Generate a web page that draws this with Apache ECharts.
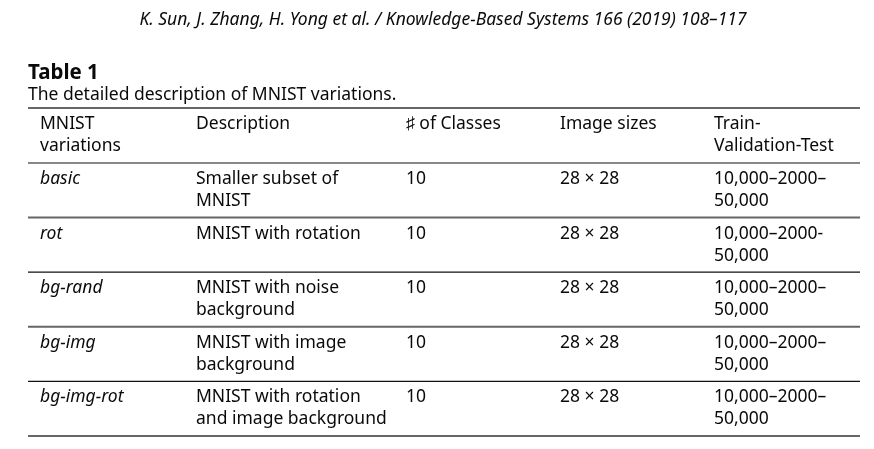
<!DOCTYPE html>
<html>
<head>
<meta charset="utf-8">
<script src="https://cdn.jsdelivr.net/npm/echarts@6/dist/echarts.min.js"></script>
<style>html,body{margin:0;padding:0;background:#fff;}#c{width:874px;height:449px;}</style>
</head>
<body>
<div id="c"></div>
<script>
// ---- data ----
const runningHead = 'K. Sun, J. Zhang, H. Yong et al. / Knowledge-Based Systems 166 (2019) 108–117';
const tableLabel = 'Table 1';
const caption = 'The detailed description of MNIST variations.';
const columns = ['MNIST\nvariations', 'Description', '♯ of Classes', 'Image sizes', 'Train-\nValidation-Test'];
const variations = ['basic', 'rot', 'bg-rand', 'bg-img', 'bg-img-rot'];
const descriptions = ['Smaller subset of\nMNIST', 'MNIST with rotation', 'MNIST with noise\nbackground', 'MNIST with image\nbackground', 'MNIST with rotation\nand image background'];
const numClasses = [10, 10, 10, 10, 10];
const imageSizes = ['28 × 28', '28 × 28', '28 × 28', '28 × 28', '28 × 28'];
const splits = ['10,000–2000–\n50,000', '10,000–2000-\n50,000', '10,000–2000–\n50,000', '10,000–2000–\n50,000', '10,000–2000–\n50,000'];

// ---- layout ----
const FONT = '"Noto Sans", sans-serif';
const colX = [40, 196, 406, 560, 714];
const tableLeft = 28, tableRight = 860;
const topRule = 108, headRule = 163, rowH = 54.6;
const lineH = 22, fs = 17.5, textColor = '#0a0a0a';

const chart = echarts.init(document.getElementById('c'), null, {renderer: 'canvas'});
const g = [];
function txt(x, y, s, opt) {
  g.push({type: 'text', x: x, y: y, silent: true, style: Object.assign({
    text: s, fill: textColor, font: fs + 'px ' + FONT, lineHeight: lineH,
    textAlign: 'left', textVerticalAlign: 'top'
  }, opt || {})});
}
function rule(y, dark) {
  g.push({type: 'line', silent: true, shape: {x1: tableLeft, y1: y, x2: tableRight, y2: y},
    style: {stroke: dark ? '#111' : '#666', lineWidth: dark ? 1.2 : 2}});
}
txt(443, 9, runningHead, {textAlign: 'center', font: 'italic 17.5px ' + FONT, lineHeight: 22});
txt(28, 60, tableLabel, {font: 'bold 20.5px ' + FONT, lineHeight: 26});
txt(28, 84, caption);
rule(topRule, false);
columns.forEach((c, i) => txt(colX[i], topRule + 5, c));
rule(headRule, true);
const rows = variations.map((v, i) => [v, descriptions[i], String(numClasses[i]), imageSizes[i], splits[i]]);
rows.forEach((r, ri) => {
  const top = headRule + ri * rowH;
  r.forEach((cell, ci) => txt(colX[ci], top + 5, cell, ci === 0 ? {font: 'italic ' + fs + 'px ' + FONT} : {}));
  rule(top + rowH, ri % 2 === 1);
});
chart.setOption({backgroundColor: '#fff', animation: false, graphic: {elements: g}});
</script>
</body>
</html>
